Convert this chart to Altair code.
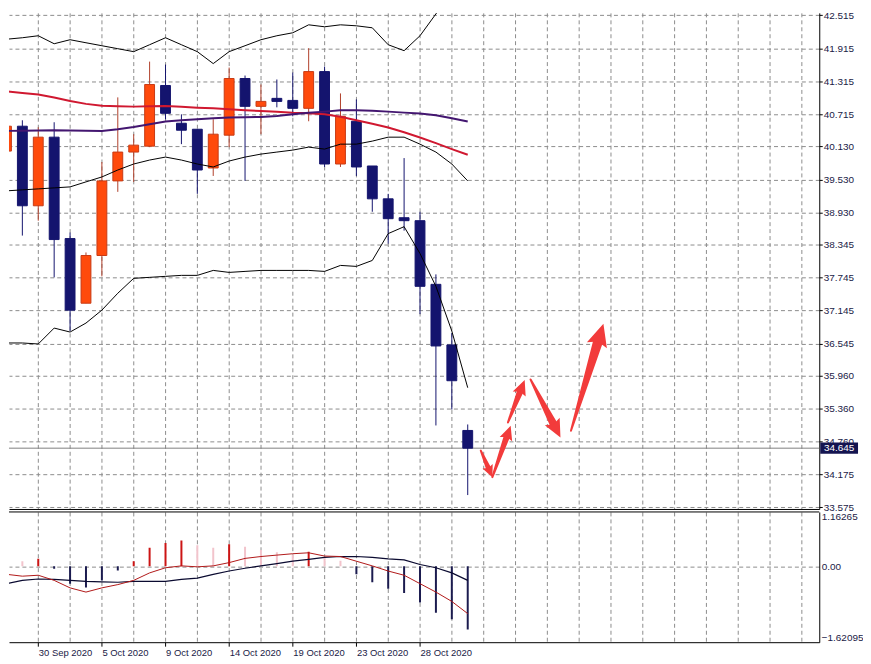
import math
import altair as alt
import pandas as pd

# ---------------- data ----------------
dates = ["28 Sep 2020", "29 Sep 2020", "30 Sep 2020", "1 Oct 2020", "2 Oct 2020", "4 Oct 2020",
         "5 Oct 2020", "6 Oct 2020", "7 Oct 2020", "8 Oct 2020", "9 Oct 2020", "11 Oct 2020",
         "12 Oct 2020", "13 Oct 2020", "14 Oct 2020", "15 Oct 2020", "16 Oct 2020", "18 Oct 2020",
         "19 Oct 2020", "20 Oct 2020", "21 Oct 2020", "22 Oct 2020", "23 Oct 2020", "25 Oct 2020",
         "26 Oct 2020", "27 Oct 2020", "28 Oct 2020", "29 Oct 2020", "30 Oct 2020", "1 Nov 2020"]
opens = [40.045, 40.497, 39.051, 40.298, 38.455, 37.280, 38.147, 39.503, 40.027, 40.135,
         41.237, 40.551, 40.442, 39.738, 40.334, 41.364, 40.858, 41.003, 40.966, 40.822,
         41.490, 39.810, 40.587, 39.774, 39.177, 38.834, 38.780, 37.623, 36.521, 34.967]
highs = [40.894, 40.605, 40.478, 40.569, 38.563, 38.202, 39.846, 41.021, 40.352, 41.671,
         41.617, 40.713, 40.442, 40.623, 41.563, 41.418, 41.255, 41.346, 41.472, 41.915,
         41.581, 41.093, 40.984, 39.774, 39.268, 39.918, 38.942, 37.804, 36.738, 35.076]
lows = [39.864, 38.509, 38.780, 37.750, 36.774, 37.280, 37.768, 39.304, 39.485, 40.117,
        40.623, 40.171, 39.268, 39.593, 40.117, 39.503, 40.352, 40.840, 40.677, 40.587,
        39.756, 39.756, 39.593, 38.942, 38.364, 38.599, 37.081, 35.058, 35.347, 33.793]
closes = [40.497, 39.051, 40.298, 38.437, 37.154, 38.147, 39.503, 40.027, 40.153, 41.255,
          40.731, 40.424, 39.701, 40.352, 41.364, 40.858, 40.948, 40.948, 40.822, 41.490,
          39.810, 40.677, 39.756, 39.177, 38.816, 38.780, 37.587, 36.503, 35.871, 34.645]
bb_upper = [42.078, 42.105, 42.141, 41.996, 42.069, 42.014, 41.960, 41.906, 41.852, 41.978,
            42.105, 41.978, 41.852, 41.635, 41.852, 41.960, 42.069, 42.141, 42.195, 42.340,
            42.304, 42.340, 42.322, 42.286, 41.978, 41.870, 42.141, 42.538, 42.918, 43.297]
bb_mid = [39.322, 39.340, 39.358, 39.376, 39.394, 39.485, 39.575, 39.701, 39.810, 39.882,
          39.936, 39.882, 39.810, 39.756, 39.864, 39.936, 39.990, 40.027, 40.063, 40.117,
          40.081, 40.171, 40.171, 40.226, 40.298, 40.298, 40.171, 40.027, 39.810, 39.503]
bb_lower = [36.557, 36.557, 36.539, 36.828, 36.756, 36.919, 37.154, 37.461, 37.732, 37.750,
            37.768, 37.786, 37.786, 37.876, 37.840, 37.858, 37.876, 37.876, 37.876, 37.876,
            37.858, 37.967, 37.949, 38.057, 38.545, 38.671, 38.183, 37.587, 36.774, 35.744]
ma_red = [41.129, 41.102, 41.075, 41.020, 40.954, 40.903, 40.867, 40.858, 40.853, 40.858,
          40.863, 40.849, 40.834, 40.822, 40.804, 40.786, 40.773, 40.759, 40.741, 40.731,
          40.713, 40.668, 40.605, 40.542, 40.473, 40.388, 40.292, 40.189, 40.081, 39.978]
ma_purple = [40.412, 40.415, 40.419, 40.424, 40.419, 40.415, 40.412, 40.442, 40.484, 40.533,
             40.581, 40.605, 40.623, 40.641, 40.654, 40.659, 40.665, 40.683, 40.713, 40.741,
             40.762, 40.786, 40.786, 40.780, 40.762, 40.744, 40.726, 40.695, 40.641, 40.581]
osc_hist = [0.29, 0.11, 0.16, -0.05, -0.37, -0.45, -0.30, -0.09, 0.11, 0.40,
            0.50, 0.55, 0.45, 0.40, 0.47, 0.42, 0.35, 0.30, 0.25, 0.31,
            0.20, 0.12, -0.17, -0.34, -0.48, -0.57, -0.77, -0.99, -1.13, -1.35]
osc_red = [-0.17, -0.21, -0.19, -0.30, -0.46, -0.55, -0.46, -0.39, -0.30, -0.14,
           -0.03, 0.01, -0.01, 0.01, 0.08, 0.17, 0.21, 0.24, 0.27, 0.29,
           0.22, 0.21, 0.11, 0.01, -0.10, -0.19, -0.37, -0.55, -0.75, -1.01]
osc_black = [-0.37, -0.30, -0.27, -0.28, -0.30, -0.32, -0.33, -0.34, -0.32, -0.32,
             -0.32, -0.28, -0.25, -0.17, -0.10, -0.04, 0.01, 0.06, 0.11, 0.15,
             0.19, 0.21, 0.21, 0.19, 0.16, 0.14, 0.04, -0.03, -0.14, -0.30]
price_ticks = [42.515, 41.915, 41.315, 40.715, 40.130, 39.530, 38.930, 38.345,
               37.745, 37.145, 36.545, 35.960, 35.360, 34.760, 34.175, 33.575]
osc_ticks = [-1.62095, 0.0, 1.16265]
label_idx = [2, 6, 10, 14, 18, 22, 26]
# hand-drawn arrows: start / tip in (bar index, price)
arrow_start_i = [29.82, 30.55, 31.53, 32.95, 35.49]
arrow_start_p = [34.600, 34.118, 35.112, 35.894, 34.962]
arrow_tip_i = [30.55, 31.70, 32.58, 34.83, 37.53]
arrow_tip_p = [34.118, 35.052, 35.883, 34.841, 36.906]
arrow_head = [8.0, 9.5, 10.0, 12.0, 15.0]

# ---------------- layout / style ----------------
W, H_MAIN, H_IND = 815, 499, 131
X_DOMAIN = [0.16, 51.1]
P_DOMAIN = [33.540, 42.557]
I_DOMAIN = [osc_ticks[0], osc_ticks[-1]]
HALF_BODY = 0.31
FONT = "Liberation Sans"
LBL = "#1a1a46"
GRID = "#8c8c8c"
DASH = [4, 3]
BULL, BULL_EDGE, BULL_WICK = "#ff4a0c", "#c83a14", "#b0402a"
BEAR = "#14146e"
ARROW = "#f23b3b"

n = len(closes)
df = pd.DataFrame({"i": list(range(n)), "date": dates, "open": opens, "high": highs,
                   "low": lows, "close": closes, "up": bb_upper, "mid": bb_mid, "lo": bb_lower,
                   "mar": ma_red, "map": ma_purple, "h": osc_hist, "sr": osc_red, "sb": osc_black})
df["zero"] = 0.0
kind = []
for k, v in enumerate(osc_hist):
    if v < 0:
        kind.append("#1b1b4f")
    elif k > 0 and v < osc_hist[k - 1]:
        kind.append("#f2c4cc")
    else:
        kind.append("#cc1414")
df["hc"] = kind

grid_vals = list(range(2, 51, 2))
lab_map = {k: dates[k] for k in label_idx}
expr = "".join(f"datum.value == {k} ? '{v}' : " for k, v in lab_map.items()) + "''"
tick_test = " || ".join(f"datum.value == {k}" for k in label_idx)

main_x_axis = alt.Axis(values=grid_vals, labels=False, ticks=False, domain=True, domainColor="#000000",
                       grid=True, gridColor=GRID, gridDash=DASH, gridWidth=1, title=None)
main_y_axis = alt.Axis(orient="right", values=price_ticks, format=".3f", labelFont=FONT, labelFontSize=10,
                       labelColor=LBL, tickSize=3, tickColor="#000000", labelPadding=1,
                       domainColor="#000000", grid=True, gridColor=GRID, gridDash=DASH, title=None,
                       labelOverlap=False)
ind_x_axis = alt.Axis(values=grid_vals, labelExpr=expr, labelAlign="left", labelBaseline="top",
                      labelPadding=1.5, labelFont=FONT, labelFontSize=9.5, labelColor=LBL, tickSize=4,
                      tickColor="#000000",
                      tickOpacity={"condition": {"test": tick_test, "value": 1}, "value": 0},
                      domainColor="#000000", grid=True, gridColor=GRID, gridDash=DASH, title=None,
                      labelOverlap=False)
ind_y_axis = alt.Axis(orient="right", values=osc_ticks,
                      labelExpr="datum.value == 0 ? '0.00' : format(datum.value, '.5f')",
                      labelFlush=True, labelFont=FONT, labelFontSize=10, labelColor=LBL, ticks=False,
                      labelPadding=2, domainColor="#000000", grid=True, gridColor=GRID, gridDash=DASH,
                      gridOpacity={"condition": {"test": "datum.value == 0", "value": 1}, "value": 0},
                      title=None)

xs = alt.Scale(domain=X_DOMAIN, nice=False, zero=False)
ps = alt.Scale(domain=P_DOMAIN, nice=False, zero=False)
os_ = alt.Scale(domain=I_DOMAIN, nice=False, zero=False)


def xm(f="i"):
    return alt.X(f"{f}:Q", scale=xs, axis=main_x_axis)


def ym(f):
    return alt.Y(f"{f}:Q", scale=ps, axis=main_y_axis)


def xi():
    return alt.X("i:Q", scale=xs, axis=ind_x_axis)


def yi(f):
    return alt.Y(f"{f}:Q", scale=os_, axis=ind_y_axis)


base = alt.Chart(df)
is_bull = "datum.close > datum.open"

wicks = base.mark_rule(strokeWidth=1, clip=True).encode(
    x=xm(), y=ym("low"), y2="high:Q",
    color=alt.condition(is_bull, alt.value(BULL_WICK), alt.value(BEAR)))
bodies = base.transform_calculate(
    xl=f"datum.i - {HALF_BODY}", xr=f"datum.i + {HALF_BODY}"
).mark_rect(strokeWidth=1, clip=True).encode(
    x=xm("xl"), x2="xr:Q", y=ym("open"), y2="close:Q",
    color=alt.condition(is_bull, alt.value(BULL), alt.value(BEAR)),
    stroke=alt.condition(is_bull, alt.value(BULL_EDGE), alt.value(BEAR)))

bb_lines = [base.mark_line(color="#000000", strokeWidth=1, clip=True).encode(x=xm(), y=ym(f))
            for f in ("up", "mid", "lo")]
red_ma = base.mark_line(color="#d01830", strokeWidth=2, clip=True).encode(x=xm(), y=ym("mar"))
pur_ma = base.mark_line(color="#431670", strokeWidth=2, clip=True).encode(x=xm(), y=ym("map"))

last = pd.DataFrame({"p": [closes[-1]]})
price_line = alt.Chart(last).mark_rule(color="#808080", strokeWidth=1).encode(y=ym("p"))
box = alt.Chart(last).mark_point(shape="M-1,-0.3H1V0.3H-1Z", filled=True, opacity=1, size=1444,
                                 color="#141450", strokeWidth=0).encode(
    x=alt.value(W + 20), y=ym("p"))
box_txt = alt.Chart(last).mark_text(color="white", font=FONT, fontSize=10, align="center",
                                    baseline="middle").encode(
    x=alt.value(W + 20), y=ym("p"), text=alt.Text("p:Q", format=".3f"))

# arrows: tapered shaft (trail) + arrow head (custom symbol)
XPX = W / (X_DOMAIN[1] - X_DOMAIN[0])
YPX = H_MAIN / (P_DOMAIN[1] - P_DOMAIN[0])
trail_rows, head_rows = [], []
for a in range(len(arrow_tip_i)):
    dx = (arrow_tip_i[a] - arrow_start_i[a]) * XPX
    dy = -(arrow_tip_p[a] - arrow_start_p[a]) * YPX
    L = math.hypot(dx, dy)
    ux, uy = dx / L, dy / L
    r = arrow_head[a]
    ci = arrow_tip_i[a] - r * ux / XPX
    cp = arrow_tip_p[a] + r * uy / YPX
    ang = math.degrees(math.atan2(ux, -uy)) % 360
    trail_rows.append({"id": a, "k": 0, "i": arrow_start_i[a], "p": arrow_start_p[a], "w": 2.0})
    trail_rows.append({"id": a, "k": 1, "i": ci, "p": cp, "w": r * 0.68})
    head_rows.append({"id": a, "i": ci, "p": cp, "ang": ang, "s": 4 * r * r})
trail_df = pd.DataFrame(trail_rows)
head_df = pd.DataFrame(head_rows)
shafts = alt.Chart(trail_df).mark_trail(color=ARROW, opacity=1).encode(
    x=xm(), y=ym("p"), size=alt.Size("w:Q", scale=None, legend=None),
    detail="id:N", order="k:Q")
heads = alt.Chart(head_df).mark_point(shape="M0,-1L0.7,0.5L0,0.25L-0.7,0.5Z", filled=True, opacity=1,
                                      color=ARROW, strokeWidth=0).encode(
    x=xm(), y=ym("p"), size=alt.Size("s:Q", scale=None, legend=None),
    angle=alt.Angle("ang:Q", scale=None))

main = alt.layer(price_line, wicks, bodies, *bb_lines, red_ma, pur_ma, shafts, heads, box, box_txt
                 ).properties(width=W, height=H_MAIN)

# ---------------- oscillator panel ----------------
hist = base.mark_rule(strokeWidth=2, clip=True).encode(
    x=xi(), y=yi("h"), y2="zero:Q", color=alt.Color("hc:N", scale=None, legend=None))
l_black = base.mark_line(color="#0a0a30", strokeWidth=1.2, clip=True).encode(x=xi(), y=yi("sb"))
l_red = base.mark_line(color="#b01818", strokeWidth=1, clip=True).encode(x=xi(), y=yi("sr"))
top_border = alt.Chart(pd.DataFrame({"t": [I_DOMAIN[1]]})).mark_rule(
    color="#000000", strokeWidth=1).encode(y=yi("t"))
ind = alt.layer(hist, l_black, l_red, top_border).properties(width=W, height=H_IND)

chart = alt.vconcat(main, ind, spacing=3, bounds="flush").properties(
    padding=0, background="white").configure_view(stroke=None)

chart.save("out.html", embed_options={"renderer": "svg", "actions": False})
